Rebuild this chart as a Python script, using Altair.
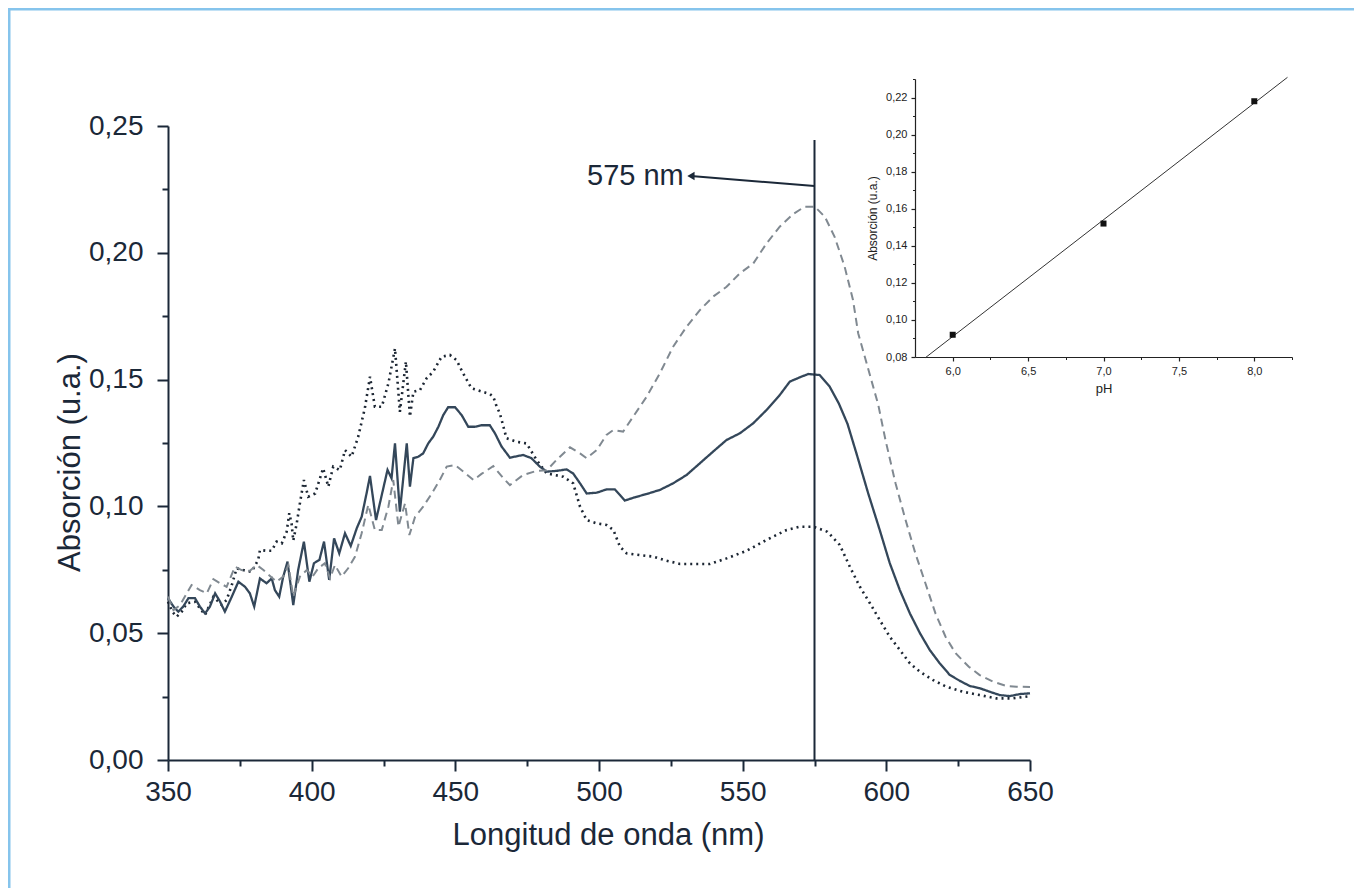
import altair as alt
import pandas as pd

# ---------------- data ----------------
series_names = ["pH 6", "pH 7", "pH 8"]

wl_ph6 = [350, 351.5, 353.0, 354.8, 356.5, 359.4, 361.1, 362.9, 365.8, 368.7, 370.4, 372.2,
          373.9, 376.2, 379.1, 381.4, 382.0, 384.3, 386.1, 387.8, 389.6, 391.3, 392.2, 393.0,
          393.6, 394.8, 395.9, 397.3, 398.8, 401.2, 404.0, 405.8, 407.5, 409.8, 411.6, 413.9,
          416.2, 418.5, 420.3, 422.0, 424.4, 426.7, 429.0, 430.7, 432.8, 434.2, 435.4, 437.7,
          440.0, 442.3, 445.2, 448.1, 450.4, 452.7, 455.6, 458.6, 462.0, 463.2, 464.4, 465.5,
          467.8, 471.3, 474.8, 478.3, 481.8, 487.6, 491.0, 493.4, 495.7, 499.2, 502.6, 505.0,
          507.3, 509.6, 514.3, 518.9, 523.5, 528.2, 532.8, 538.6, 544.4, 551.4, 558.3, 565.3,
          569.9, 574.6, 579.5, 583.8, 587.3, 590.8, 594.3, 597.7, 601.2, 604.7, 608.2, 611.7,
          616.3, 620.9, 626.7, 632.5, 638.3, 644.1, 650]
abs_ph6 = [0.0624, 0.0585, 0.0565, 0.0585, 0.0618, 0.0624, 0.0598, 0.0572, 0.0644, 0.0611, 0.0631, 0.0690,
           0.0756, 0.0749, 0.0742, 0.0789, 0.0828, 0.0825, 0.0825, 0.0861, 0.0854, 0.0900, 0.0973, 0.0933,
           0.0865, 0.0933, 0.1012, 0.1104, 0.1038, 0.1051, 0.1150, 0.1078, 0.1157, 0.1143, 0.1222, 0.1196,
           0.1275, 0.1387, 0.1511, 0.1393, 0.1393, 0.1485, 0.1623, 0.1373, 0.1571, 0.1354, 0.1452, 0.1459,
           0.1505, 0.1531, 0.1590, 0.1597, 0.1577, 0.1525, 0.1466, 0.1455, 0.1443, 0.1433, 0.1393, 0.1367,
           0.1269, 0.1255, 0.1248, 0.1183, 0.1130, 0.1117, 0.1091, 0.0999, 0.0946, 0.0933, 0.0927, 0.0907,
           0.0841, 0.0815, 0.0808, 0.0802, 0.0786, 0.0773, 0.0773, 0.0773, 0.0795, 0.0825, 0.0868, 0.0907,
           0.0920, 0.0920, 0.0900, 0.0848, 0.0762, 0.0683, 0.0618, 0.0552, 0.0486, 0.0434, 0.0381, 0.0348,
           0.0315, 0.0289, 0.0269, 0.0256, 0.0243, 0.0243, 0.0252]

wl_ph7 = [350, 351.9, 353.6, 355.3, 357.1, 359.4, 361.1, 362.9, 364.6, 366.4, 368.1, 369.8,
          372.2, 374.5, 376.8, 378.5, 380.0, 382.0, 384.3, 386.1, 387.2, 388.7, 390.1, 391.6,
          393.6, 395.3, 397.3, 399.2, 400.8, 402.7, 404.3, 406.1, 407.8, 409.6, 411.6, 413.6,
          415.7, 417.4, 419.1, 420.3, 422.4, 424.4, 426.4, 427.8, 429.0, 430.7, 433.1, 434.2,
          435.4, 437.1, 438.8, 440.6, 442.3, 444.1, 445.8, 447.5, 449.9, 452.2, 454.5, 456.8,
          459.1, 462.0, 463.8, 466.1, 469.0, 473.6, 476.5, 479.4, 481.8, 485.2, 488.7, 491.0,
          493.4, 495.7, 499.2, 502.6, 505.5, 507.3, 509.0, 512.5, 516.6, 521.2, 525.8, 530.5,
          535.1, 539.7, 544.4, 549.0, 553.7, 558.3, 562.9, 566.4, 569.9, 572.8, 576.8, 580.3,
          583.5, 586.5, 589.6, 593.7, 597.7, 601.2, 604.7, 608.2, 611.7, 615.1, 618.6, 622.1,
          625.6, 629.0, 632.5, 636.0, 639.5, 643.0, 646.5, 650]
abs_ph7 = [0.0638, 0.0605, 0.0585, 0.0605, 0.0638, 0.0638, 0.0605, 0.0578, 0.0605, 0.0657, 0.0625, 0.0585,
           0.0644, 0.0703, 0.0683, 0.0657, 0.0605, 0.0716, 0.0697, 0.0716, 0.0670, 0.0644, 0.0723, 0.0782,
           0.0611, 0.0749, 0.0861, 0.0703, 0.0776, 0.0789, 0.0861, 0.0710, 0.0874, 0.0815, 0.0894, 0.0844,
           0.0914, 0.0959, 0.1051, 0.1120, 0.0946, 0.1045, 0.1144, 0.1111, 0.1249, 0.0979, 0.1249, 0.1078,
           0.1190, 0.1196, 0.1209, 0.1249, 0.1275, 0.1314, 0.1360, 0.1391, 0.1391, 0.1360, 0.1314, 0.1314,
           0.1320, 0.1320, 0.1288, 0.1236, 0.1192, 0.1203, 0.1190, 0.1157, 0.1137, 0.1140, 0.1146, 0.1130,
           0.1091, 0.1051, 0.1054, 0.1067, 0.1067, 0.1045, 0.1023, 0.1036, 0.1049, 0.1065, 0.1091, 0.1124,
           0.1170, 0.1216, 0.1262, 0.1288, 0.1328, 0.1380, 0.1439, 0.1492, 0.1509, 0.1522, 0.1518, 0.1472,
           0.1405, 0.1325, 0.1209, 0.1051, 0.0907, 0.0776, 0.0670, 0.0578, 0.0500, 0.0434, 0.0381, 0.0335,
           0.0312, 0.0292, 0.0283, 0.0269, 0.0256, 0.0252, 0.0260, 0.0263]

wl_ph8 = [350, 351.9, 354.2, 358.2, 361.1, 363.5, 365.8, 368.1, 370.4, 373.3, 375.6, 378.5,
          380.9, 383.2, 385.5, 387.8, 390.1, 391.9, 393.6, 395.9, 398.3, 400.3, 402.3, 404.6,
          406.4, 408.1, 410.4, 412.7, 415.1, 417.4, 419.7, 422.0, 424.4, 426.7, 428.4, 430.2,
          432.5, 434.0, 436.0, 438.8, 441.8, 444.6, 447.0, 449.9, 452.8, 456.3, 459.1, 463.2,
          466.7, 469.0, 473.6, 478.3, 481.8, 485.2, 489.9, 493.4, 495.7, 499.2, 502.6, 505.0,
          508.4, 511.9, 516.6, 521.2, 525.8, 530.5, 535.1, 539.7, 544.4, 549.0, 553.7, 558.3,
          562.9, 567.6, 571.6, 575.1, 578.6, 582.0, 585.5, 588.4, 590.2, 597.2, 599.7, 603.2,
          606.7, 610.1, 613.6, 617.1, 620.6, 624.1, 628.7, 632.5, 637.1, 641.8, 645.3, 650]
abs_ph8 = [0.0644, 0.0591, 0.0611, 0.0690, 0.0670, 0.0657, 0.0713, 0.0697, 0.0683, 0.0762, 0.0749, 0.0746,
           0.0769, 0.0749, 0.0726, 0.0703, 0.0723, 0.0769, 0.0644, 0.0723, 0.0749, 0.0723, 0.0756, 0.0776,
           0.0716, 0.0769, 0.0723, 0.0756, 0.0802, 0.0894, 0.1006, 0.0907, 0.0907, 0.0999, 0.1104, 0.0920,
           0.1012, 0.0887, 0.0959, 0.0999, 0.1051, 0.1104, 0.1157, 0.1163, 0.1137, 0.1104, 0.1128, 0.1159,
           0.1111, 0.1084, 0.1124, 0.1140, 0.1142, 0.1183, 0.1233, 0.1209, 0.1190, 0.1222, 0.1282, 0.1301,
           0.1295, 0.1354, 0.1433, 0.1525, 0.1630, 0.1709, 0.1774, 0.1827, 0.1866, 0.1919, 0.1958, 0.2037,
           0.2103, 0.2153, 0.2182, 0.2182, 0.2142, 0.2063, 0.1945, 0.1814, 0.1683, 0.1400, 0.1262, 0.1091,
           0.0946, 0.0815, 0.0697, 0.0578, 0.0486, 0.0421, 0.0368, 0.0335, 0.0309, 0.0292, 0.0289, 0.0288]

marker_wl = [575]
marker_top = [0.2445]
arrow_wl = [575, 532]
arrow_abs = [0.2263, 0.2303]
label_wl = [529.5]
label_abs = [0.2303]
label_text = ["575 nm"]

inset_ph = [6.0, 7.0, 8.0]
inset_abs = [0.092, 0.152, 0.218]
fit_ph = [5.82, 8.22]
fit_abs = [0.0797, 0.2309]

x_major = [350, 400, 450, 500, 550, 600, 650]
x_minor = [375, 425, 475, 525, 575, 625]
y_major = [0.0, 0.05, 0.1, 0.15, 0.2, 0.25]
y_minor = [0.025, 0.075, 0.125, 0.175, 0.225]
ix_major = [6.0, 6.5, 7.0, 7.5, 8.0]
ix_minor = [6.25, 6.75, 7.25, 7.75, 8.25]
iy_major = [0.08, 0.1, 0.12, 0.14, 0.16, 0.18, 0.2, 0.22]
iy_minor = [0.09, 0.11, 0.13, 0.15, 0.17, 0.19, 0.21, 0.23]

# ---------------- tables ----------------
rows = []
for name, wl, ab in zip(series_names, [wl_ph6, wl_ph7, wl_ph8], [abs_ph6, abs_ph7, abs_ph8]):
    for w, a in zip(wl, ab):
        rows.append({"series": name, "wl": w, "abs": a})
spectra = pd.DataFrame(rows)

FONT = "Liberation Sans"
INK = "#1b2838"
W, H = 862, 634

xs = alt.Scale(domain=[350, 650], nice=False, zero=False)
ys = alt.Scale(domain=[0, 0.25], nice=False, zero=False)


def major_axis(orient, values, title, expr, *, tick, width, lsize, lpad, tsize, tpad, color,
               offset=0, **extra):
    return alt.Axis(
        orient=orient, values=values, title=title, labelExpr=expr, offset=offset,
        tickSize=tick, tickWidth=width, tickColor=color, domainColor=color, domainWidth=width,
        labelFont=FONT, labelFontSize=lsize, labelColor=color, labelPadding=lpad,
        labelOverlap=False, labelFlush=False, labelBound=False,
        titleFont=FONT, titleFontSize=tsize, titleFontWeight="normal", titleColor=color,
        titlePadding=tpad, grid=False, **extra,
    )


def minor_axis(orient, values, tick, width, color, offset=0):
    return alt.Axis(
        orient=orient, values=values, title=None, labels=False, domain=False, offset=offset,
        tickSize=tick, tickWidth=width, tickColor=color, grid=False,
    )


x_axis = major_axis("bottom", x_major, "Longitud de onda (nm)", "format(datum.value, 'd')",
                    tick=11, width=2, lsize=28, lpad=7, tsize=31, tpad=14, color=INK,
                    titleX=440)
y_axis = major_axis("left", y_major, "Absorción (u.a.)",
                    "replace(format(datum.value, '.2f'), '.', ',')",
                    tick=11, width=2, lsize=28, lpad=14, tsize=31, tpad=2, color=INK,
                    titleY=336)

one = pd.DataFrame({"k": [0]})
frame_left = alt.Chart(one).mark_rule(color="#86c4ec", strokeWidth=3).encode(
    x=alt.value(-159), y=alt.value(-117), y2=alt.value(762))
frame_top = alt.Chart(one).mark_rule(color="#86c4ec", strokeWidth=3).encode(
    x=alt.value(-160), x2=alt.value(1186), y=alt.value(-117))

lines = alt.Chart(spectra).mark_line().encode(
    x=alt.X("wl:Q", scale=xs, axis=x_axis),
    y=alt.Y("abs:Q", scale=ys, axis=y_axis),
    color=alt.Color("series:N", scale=alt.Scale(domain=series_names,
                    range=["#1c2633", "#34475a", "#808991"]), legend=None),
    strokeDash=alt.StrokeDash("series:N", scale=alt.Scale(domain=series_names,
                              range=[[2, 4], [1, 0], [8, 5]]), legend=None),
    strokeWidth=alt.StrokeWidth("series:N", scale=alt.Scale(domain=series_names,
                                range=[2.6, 2.0, 2.0]), legend=None),
)

rule = alt.Chart(pd.DataFrame({"wl": marker_wl, "top": marker_top, "bottom": [0.0]})).mark_rule(
    color=INK, strokeWidth=2).encode(
    x=alt.X("wl:Q", scale=xs, axis=minor_axis("bottom", x_minor, 6, 2, INK)),
    y=alt.Y("bottom:Q", scale=ys, axis=minor_axis("left", y_minor, 6, 2, INK)),
    y2="top:Q")

arrow = alt.Chart(pd.DataFrame({"wl": arrow_wl, "abs": arrow_abs})).mark_line(
    color=INK, strokeWidth=2).encode(
    x=alt.X("wl:Q", scale=xs, axis=None),
    y=alt.Y("abs:Q", scale=ys, axis=None))

head = alt.Chart(pd.DataFrame({"wl": [arrow_wl[-1]], "abs": [arrow_abs[-1]]})).mark_point(
    shape="triangle-left", filled=True, size=70, color=INK, opacity=1).encode(
    x=alt.X("wl:Q", scale=xs, axis=None),
    y=alt.Y("abs:Q", scale=ys, axis=None))

label = alt.Chart(pd.DataFrame({"wl": label_wl, "abs": label_abs, "t": label_text})).mark_text(
    align="right", baseline="middle", font=FONT, fontSize=29, color=INK).encode(
    x=alt.X("wl:Q", scale=xs, axis=None),
    y=alt.Y("abs:Q", scale=ys, axis=None),
    text="t:N")

main = alt.layer(frame_left, frame_top, lines, rule, arrow, head, label).resolve_axis(
    x="independent", y="independent")

# ---------------- inset ----------------
ixs = alt.Scale(domain=[5.75, 8.25], range=[747, 1124], nice=False, zero=False)
iys = alt.Scale(domain=[0.08, 0.23], range=[231, -47], nice=False, zero=False)
IINK = "#222222"

ix_axis = major_axis("bottom", ix_major, "pH", "replace(format(datum.value, '.1f'), '.', ',')",
                     tick=4, width=1.2, lsize=11, lpad=4, tsize=13, tpad=6, color=IINK, offset=-403)
iy_axis = major_axis("left", iy_major, "Absorción (u.a.)",
                     "replace(format(datum.value, '.2f'), '.', ',')",
                     tick=4, width=1.2, lsize=11, lpad=4, tsize=12, tpad=6, color=IINK, offset=-747)

fit = alt.Chart(pd.DataFrame({"ph": fit_ph, "a": fit_abs})).mark_line(
    color="#333333", strokeWidth=1).encode(
    x=alt.X("ph:Q", scale=ixs, axis=ix_axis),
    y=alt.Y("a:Q", scale=iys, axis=iy_axis))

pts = alt.Chart(pd.DataFrame({"ph": inset_ph, "a": inset_abs})).mark_square(
    size=36, color="#111111", opacity=1).encode(
    x=alt.X("ph:Q", scale=ixs, axis=minor_axis("bottom", ix_minor, 2.5, 1, IINK, offset=-403)),
    y=alt.Y("a:Q", scale=iys, axis=minor_axis("left", iy_minor, 2.5, 1, IINK, offset=-747)))

inset = alt.layer(fit, pts).resolve_axis(x="independent", y="independent")

chart = alt.layer(main, inset).resolve_scale(
    x="independent", y="independent"
).properties(
    width=W, height=H,
    padding={"left": 160, "top": 118, "right": 324, "bottom": 128},
    autosize=alt.AutoSizeParams(type="none"),
    background="white",
).configure_view(stroke=None)

chart.save("out.html", embed_options={"renderer": "svg", "actions": False})
